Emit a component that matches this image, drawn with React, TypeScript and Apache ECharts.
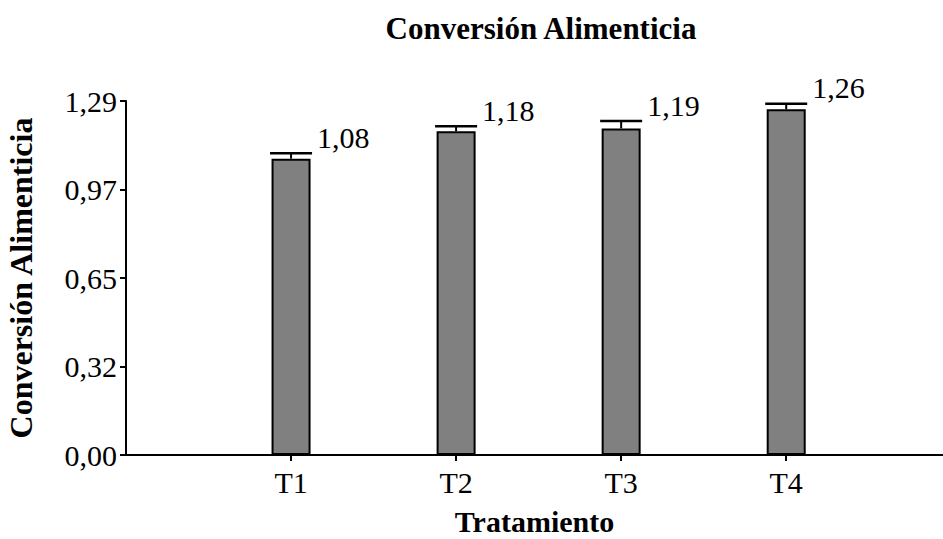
import React, { useEffect, useRef } from "react";
import * as echarts from "echarts";

const categories = ["T1", "T2", "T3", "T4"];
const values = [1.08, 1.18, 1.19, 1.26];
const errors = [0.02, 0.018, 0.027, 0.02];
const valueLabels = ["1,08", "1,18", "1,19", "1,26"];
const yTickLabels = ["0,00", "0,32", "0,65", "0,97", "1,29"];
const titleText = "Conversión Alimenticia";
const yAxisName = "Conversión Alimenticia";
const xAxisName = "Tratamiento";

const FONT = '"Liberation Serif", "Times New Roman", serif';

export default function App() {
  const ref = useRef<HTMLDivElement>(null);
  useEffect(() => {
    document.body.style.margin = "0";
    if (!ref.current) return;
    const chart = echarts.init(ref.current, null, { renderer: "svg" });
    const yStep = 1.29 / 4;
    const barData = categories.map((c, i) => [i + 1, values[i]]);
    const errData = categories.map((c, i) => [i + 1, values[i], errors[i], i]);
    chart.setOption({
      animation: false,
      backgroundColor: "#ffffff",
      grid: {
        left: 126,
        right: 0,
        top: 101,
        bottom: 84,
        containLabel: false,
        outerBoundsMode: "none",
      },
      graphic: [
        {
          type: "text",
          x: 541,
          y: 13,
          style: {
            text: titleText,
            fill: "#000",
            font: `bold 31px ${FONT}`,
            textAlign: "center",
            textVerticalAlign: "top",
          },
        },
      ],
      xAxis: {
        type: "value",
        min: 0,
        max: 4.95,
        interval: 1,
        name: xAxisName,
        nameLocation: "middle",
        nameGap: 51,
        nameTextStyle: { fontFamily: FONT, fontSize: 30, fontWeight: "bold", color: "#000" },
        splitLine: { show: false },
        axisLine: { show: true, lineStyle: { color: "#000", width: 2 } },
        axisTick: { show: true, length: 6, customValues: [1, 2, 3, 4], lineStyle: { color: "#000", width: 2 } },
        axisLabel: {
          customValues: [1, 2, 3, 4],
          formatter: (v: number) => categories[Math.round(v) - 1] ?? "",
          fontFamily: FONT,
          fontSize: 30,
          color: "#000",
          margin: 12,
        },
      },
      yAxis: {
        type: "value",
        min: 0,
        max: 1.29,
        interval: yStep,
        name: yAxisName,
        nameLocation: "middle",
        nameGap: 89,
        nameTextStyle: { fontFamily: FONT, fontSize: 32, fontWeight: "bold", color: "#000" },
        splitLine: { show: false },
        axisLine: { show: true, lineStyle: { color: "#000", width: 2 } },
        axisTick: { show: true, length: 6, lineStyle: { color: "#000", width: 2 } },
        axisLabel: {
          formatter: (v: number) => yTickLabels[Math.round(v / yStep)] ?? "",
          fontFamily: FONT,
          fontSize: 30,
          color: "#000",
          margin: 9,
        },
      },
      series: [
        {
          type: "bar",
          data: barData,
          barWidth: 39,
          itemStyle: { color: "#808080", borderColor: "#000", borderWidth: 2 },
          z: 2,
        },
        {
          type: "custom",
          data: errData,
          z: 3,
          renderItem: (params: any, api: any) => {
            const x = api.value(0);
            const v = api.value(1);
            const e = api.value(2);
            const idx = api.value(3);
            const base = api.coord([x, v]);
            const top = api.coord([x, v + e]);
            const half = 21;
            return {
              type: "group",
              children: [
                {
                  type: "line",
                  shape: { x1: top[0], y1: base[1], x2: top[0], y2: top[1] },
                  style: { stroke: "#000", lineWidth: 2 },
                },
                {
                  type: "line",
                  shape: { x1: top[0] - half, y1: top[1], x2: top[0] + half, y2: top[1] },
                  style: { stroke: "#000", lineWidth: 2.5 },
                },
                {
                  type: "text",
                  x: top[0] + half + 5,
                  y: top[1] - 1,
                  style: {
                    text: valueLabels[idx],
                    fill: "#000",
                    font: `30px ${FONT}`,
                    textAlign: "left",
                    textVerticalAlign: "bottom",
                  },
                },
              ],
            };
          },
        },
      ],
    });
    return () => chart.dispose();
  }, []);
  return <div ref={ref} style={{ width: 943, height: 539 }} />;
}
